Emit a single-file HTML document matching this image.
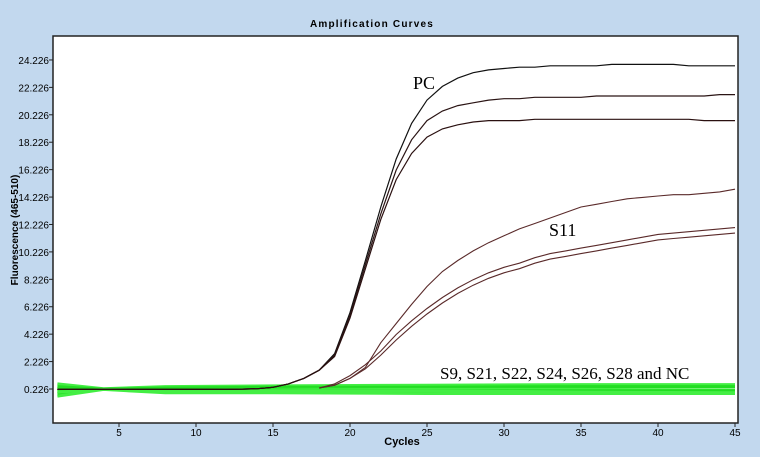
<!DOCTYPE html>
<html><head><meta charset="utf-8"><style>
body{margin:0;background:#c2d8ee;}
svg{display:block;font-family:"Liberation Sans",Arial,sans-serif;}
</style></head><body>
<svg id="chart" width="760" height="457" viewBox="0 0 760 457">
<rect x="0" y="0" width="760" height="457" fill="#c2d8ee"/>
<text x="372" y="27" text-anchor="middle" font-size="10" font-weight="bold" letter-spacing="1.2">Amplification Curves</text>
<rect x="53" y="36" width="685" height="387" fill="#fff" stroke="#222" stroke-width="1.5"/>
<g id="axes"></g>
<g id="series"></g>
<text x="402" y="445" text-anchor="middle" font-size="11" font-weight="bold">Cycles</text>
<text transform="translate(18,230) rotate(-90)" text-anchor="middle" font-size="10" font-weight="bold">Fluorescence (465-510)</text>
<text x="413" y="89" font-family="Liberation Serif,serif" font-size="18">PC</text>
<text x="549" y="236" font-family="Liberation Serif,serif" font-size="18">S11</text>
<text x="440" y="379" font-family="Liberation Serif,serif" font-size="17">S9, S21, S22, S24, S26, S28 and NC</text>
</svg>
<script>
const xTicks=[5,10,15,20,25,30,35,40,45];
const yTicks=[0.226,2.226,4.226,6.226,8.226,10.226,12.226,14.226,16.226,18.226,20.226,22.226,24.226];
const cycles=[1,2,3,4,5,6,7,8,9,10,11,12,13,14,15,16,17,18,19,20,21,22,23,24,25,26,27,28,29,30,31,32,33,34,35,36,37,38,39,40,41,42,43,44,45];
const pc1=[0.2,0.2,0.2,0.2,0.2,0.2,0.2,0.2,0.2,0.2,0.2,0.2,0.22,0.25,0.35,0.6,1.0,1.6,2.8,5.8,9.6,13.5,17.0,19.6,21.3,22.3,22.9,23.3,23.5,23.6,23.7,23.7,23.8,23.8,23.8,23.8,23.9,23.9,23.9,23.9,23.9,23.8,23.8,23.8,23.8];
const pc2=[0.2,0.2,0.2,0.2,0.2,0.2,0.2,0.2,0.2,0.2,0.2,0.2,0.22,0.25,0.35,0.6,1.0,1.6,2.7,5.6,9.3,13.0,16.2,18.4,19.8,20.5,20.9,21.1,21.3,21.4,21.4,21.5,21.5,21.5,21.5,21.6,21.6,21.6,21.6,21.6,21.6,21.6,21.6,21.7,21.7];
const pc3=[0.2,0.2,0.2,0.2,0.2,0.2,0.2,0.2,0.2,0.2,0.2,0.2,0.22,0.25,0.35,0.6,1.0,1.6,2.6,5.4,9.0,12.6,15.5,17.4,18.6,19.2,19.5,19.7,19.8,19.8,19.8,19.9,19.9,19.9,19.9,19.9,19.9,19.9,19.9,19.9,19.9,19.9,19.8,19.8,19.8];
const s11a=[null,null,null,null,null,null,null,null,null,null,null,null,null,null,null,null,null,0.3,0.5,1.0,1.8,3.6,5.0,6.4,7.7,8.8,9.6,10.3,10.9,11.4,11.9,12.3,12.7,13.1,13.5,13.7,13.9,14.1,14.2,14.3,14.4,14.4,14.5,14.6,14.8];
const s11b=[null,null,null,null,null,null,null,null,null,null,null,null,null,null,null,null,null,0.3,0.6,1.2,2.0,3.0,4.2,5.2,6.1,6.9,7.6,8.2,8.7,9.1,9.4,9.8,10.1,10.3,10.5,10.7,10.9,11.1,11.3,11.5,11.6,11.7,11.8,11.9,12.0];
const s11c=[null,null,null,null,null,null,null,null,null,null,null,null,null,null,null,null,null,0.3,0.5,1.0,1.7,2.7,3.8,4.8,5.7,6.5,7.2,7.8,8.3,8.7,9.0,9.4,9.7,9.9,10.1,10.3,10.5,10.7,10.9,11.1,11.2,11.3,11.4,11.5,11.6];
const negCycles=[1,4,8,15,25,35,45];
const neg1=[0.6,0.25,0.4,0.45,0.5,0.55,0.55];
const neg2=[0.4,0.2,0.3,0.35,0.35,0.4,0.4];
const neg3=[0.1,0.2,0.15,0.2,0.2,0.2,0.15];
const neg4=[-0.1,0.22,0.05,0.05,0.0,0.05,0.0];
const neg5=[-0.3,0.2,-0.05,-0.05,-0.1,-0.1,-0.1];
const neg6=[0.25,0.22,0.2,0.15,0.1,0.1,0.1];
const neg7=[0.0,0.2,0.1,0.1,0.1,0.0,-0.05];

const NS='http://www.w3.org/2000/svg';
const X0=57.4,XS=15.4,Y0=389,YS=13.71;
function xS(c){return X0+(c-1)*XS;}
function yS(v){return Y0-(v-0.226)*YS;}
const axes=document.getElementById('axes');
const ser=document.getElementById('series');
xTicks.forEach(t=>{
  const l=document.createElementNS(NS,'line');
  
  
  l.setAttribute('x1',xS(t));l.setAttribute('x2',xS(t));l.setAttribute('y1',423);l.setAttribute('y2',427);l.setAttribute('stroke','#222');
  axes.appendChild(l);
  const tx=document.createElementNS(NS,'text');
  
  
  tx.setAttribute('x',xS(t));tx.setAttribute('y',436);tx.setAttribute('text-anchor','middle');tx.setAttribute('font-size','10');
  tx.textContent=t;axes.appendChild(tx);
});
yTicks.forEach(t=>{
  const l=document.createElementNS(NS,'line');
  
  
  l.setAttribute('x1',49);l.setAttribute('x2',53);l.setAttribute('y1',yS(t));l.setAttribute('y2',yS(t));l.setAttribute('stroke','#222');
  axes.appendChild(l);
  const tx=document.createElementNS(NS,'text');
  
  
  tx.setAttribute('x',49);tx.setAttribute('y',yS(t)+4);tx.setAttribute('text-anchor','end');tx.setAttribute('font-size','10');
  tx.textContent=t.toFixed(3);axes.appendChild(tx);
});
function draw(xs,vals,color,w,name){
  let d='';
  vals.forEach((v,i)=>{if(v===null)return;d+=(d?'L':'M')+xS(xs[i]).toFixed(1)+','+yS(v).toFixed(1);});
  const p=document.createElementNS(NS,'path');
  
  
  p.setAttribute('d',d);p.setAttribute('fill','none');p.setAttribute('stroke',color);p.setAttribute('stroke-width',w);
  ser.appendChild(p);
}
[neg1,neg2,neg3,neg4,neg5,neg6,neg7].forEach((s,i)=>draw(negCycles,s,i%2?'#22dd22':'#44ee44',3,'negative-curve-'+(i+1)));
draw(cycles,pc1,'#111',1.2,'pc-curve-1');
draw(cycles,pc2,'#2a1414',1.2,'pc-curve-2');
draw(cycles,pc3,'#2a1010',1.2,'pc-curve-3');
draw(cycles,s11a,'#5a2a2a',1.1,'s11-curve-1');
draw(cycles,s11b,'#5a2a2a',1.1,'s11-curve-2');
draw(cycles,s11c,'#5a2a2a',1.1,'s11-curve-3');
</script>
</body></html>
